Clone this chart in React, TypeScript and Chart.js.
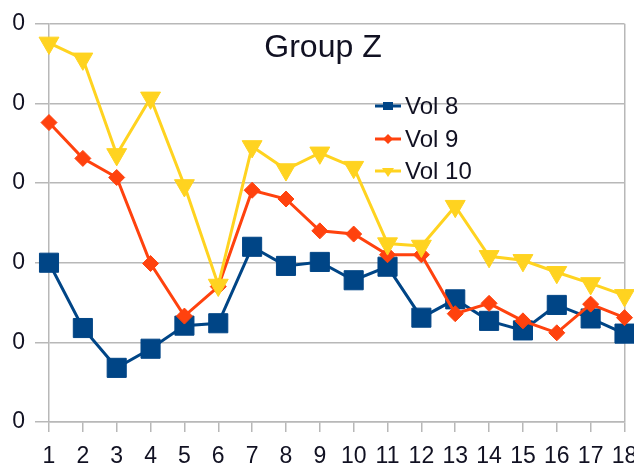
import React, { useEffect, useRef } from "react";
import { Chart, registerables } from "chart.js";

Chart.register(...registerables);

const categories = ["1", "2", "3", "4", "5", "6", "7", "8", "9", "10", "11", "12", "13", "14", "15", "16", "17", "18"];
const vol8 = [20.0, 11.8, 6.8, 9.2, 12.1, 12.4, 22.0, 19.6, 20.1, 17.8, 19.5, 13.1, 15.4, 12.7, 11.5, 14.7, 13.0, 11.1];
const vol9 = [37.6, 33.1, 30.7, 19.9, 13.3, 17.0, 29.1, 28.0, 24.0, 23.6, 21.0, 21.0, 13.6, 14.9, 12.7, 11.2, 14.8, 13.1];
const vol10 = [47.6, 45.6, 33.6, 40.7, 29.7, 17.2, 34.6, 31.7, 33.8, 32.0, 22.4, 22.1, 27.1, 20.8, 20.3, 18.8, 17.4, 15.9];
const seriesNames = ["Vol 8", "Vol 9", "Vol 10"];
const seriesColors = ["#004586", "#ff420e", "#ffd320"];
const yTicks = [0, 10, 20, 30, 40, 50];
const titleText = "Group Z";

const FONT = '"Liberation Sans", Arial, sans-serif';
const TEXT = "#111122";
const GRID = "#b8b8b8";

const overlayPlugin = {
  id: "overlay",
  afterDraw(chart: any) {
    const ctx = chart.ctx;
    ctx.save();
    // title
    ctx.fillStyle = TEXT;
    ctx.font = `32px ${FONT}`;
    ctx.textAlign = "center";
    ctx.textBaseline = "middle";
    ctx.fillText(titleText, 311, 48);
    // legend
    const rows = [106, 139, 171];
    const lx0 = 363;
    const lx1 = 389;
    const mx = 376;
    ctx.font = `24px ${FONT}`;
    ctx.textAlign = "left";
    chart.data.datasets.forEach((ds: any, i: number) => {
      const y = rows[i];
      ctx.strokeStyle = ds.borderColor;
      ctx.fillStyle = ds.borderColor;
      ctx.lineWidth = 3;
      ctx.beginPath();
      ctx.moveTo(lx0, y);
      ctx.lineTo(lx1, y);
      ctx.stroke();
      ctx.beginPath();
      if (ds.pointStyle === "rect") {
        ctx.rect(mx - 5, y - 4, 10, 8);
      } else if (ds.pointStyle === "rectRot") {
        ctx.moveTo(mx, y - 5);
        ctx.lineTo(mx + 5, y);
        ctx.lineTo(mx, y + 5);
        ctx.lineTo(mx - 5, y);
        ctx.closePath();
      } else {
        ctx.moveTo(mx - 6, y - 3);
        ctx.lineTo(mx + 6, y - 3);
        ctx.lineTo(mx, y + 6);
        ctx.closePath();
      }
      ctx.fill();
      ctx.fillStyle = TEXT;
      ctx.fillText(ds.label, 393, y + 1);
    });
    ctx.restore();
  },
};

export default function App() {
  const ref = useRef<HTMLCanvasElement | null>(null);
  useEffect(() => {
    if (!ref.current) return;
    const chart = new Chart(ref.current, {
      type: "line",
      data: {
        labels: categories,
        datasets: [
          {
            label: seriesNames[0],
            data: vol8,
            borderColor: seriesColors[0],
            backgroundColor: seriesColors[0],
            pointBackgroundColor: seriesColors[0],
            pointBorderColor: seriesColors[0],
            pointStyle: "rect",
            pointRadius: 13.5,
            pointBorderWidth: 1,
            borderWidth: 3,
            order: 2,
          },
          {
            label: seriesNames[1],
            data: vol9,
            borderColor: seriesColors[1],
            backgroundColor: seriesColors[1],
            pointBackgroundColor: seriesColors[1],
            pointBorderColor: seriesColors[1],
            pointStyle: "rectRot",
            pointRadius: 8,
            pointBorderWidth: 1,
            borderWidth: 3,
            order: 1,
          },
          {
            label: seriesNames[2],
            data: vol10,
            borderColor: seriesColors[2],
            backgroundColor: seriesColors[2],
            pointBackgroundColor: seriesColors[2],
            pointBorderColor: seriesColors[2],
            pointStyle: "triangle",
            pointRotation: 180,
            pointRadius: 11.5,
            pointBorderWidth: 1,
            borderWidth: 3,
            order: 0,
          },
        ],
      },
      options: {
        responsive: false,
        animation: false,
        layout: { padding: { top: 20, right: 9, bottom: 0, left: 0 } },
        plugins: {
          legend: { display: false },
          title: { display: false },
          tooltip: { enabled: false },
        },
        scales: {
          x: {
            type: "category",
            offset: false,
            grid: {
              color: (c: any) => (c.index === categories.length - 1 ? GRID : "rgba(0,0,0,0)"),
              tickColor: GRID,
              tickLength: 10,
              lineWidth: 1.5,
            },
            border: { display: true, color: GRID, width: 1.5 },
            ticks: {
              color: TEXT,
              font: { family: FONT, size: 23 },
              padding: 11,
              maxRotation: 0,
              autoSkip: false,
            },
            afterFit(scale: any) {
              scale.height = 46;
              scale.paddingLeft = 0;
              scale.paddingRight = 0;
            },
          },
          y: {
            min: 0,
            max: 50,
            afterBuildTicks(scale: any) {
              scale.ticks = yTicks.map((v) => ({ value: v }));
            },
            grid: {
              color: GRID,
              tickColor: GRID,
              tickLength: 14,
              lineWidth: 1.5,
            },
            border: { display: true, color: GRID, width: 1.5 },
            ticks: {
              color: TEXT,
              font: { family: FONT, size: 23 },
              padding: 10,
            },
            afterFit(scale: any) {
              scale.width = 37;
            },
          },
        },
      },
      plugins: [overlayPlugin],
    });
    return () => chart.destroy();
  }, []);

  return (
    <div style={{ position: "fixed", left: 0, top: 0, width: 634, height: 468, overflow: "hidden", background: "#fff" }}>
      <canvas ref={ref} width={627} height={468} style={{ position: "absolute", left: 12, top: 0 }} />
    </div>
  );
}
